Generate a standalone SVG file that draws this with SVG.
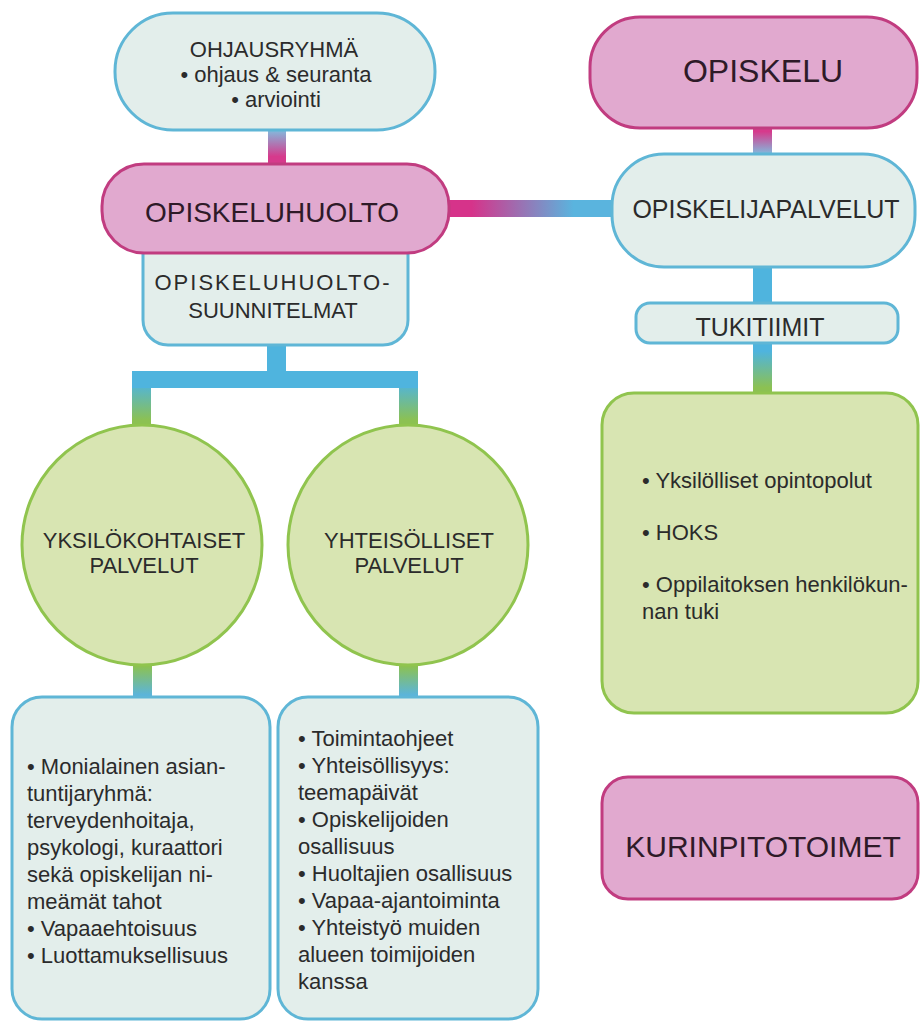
<svg xmlns="http://www.w3.org/2000/svg" width="920" height="1027" viewBox="0 0 920 1027">
<style>
.blue{fill:#e3eeeb;stroke:#5fb6d6;stroke-width:3}
.pink{fill:#e1a9cf;stroke:#c13c80;stroke-width:3}
.green{fill:#d8e5b2;stroke:#90c44e;stroke-width:3}
text{font-family:"Liberation Sans",Arial,sans-serif;fill:#2b2b2b}
.pt{fill:#2e1a28}
.c{text-anchor:middle}
.t22{font-size:22px}
</style>
<defs>
<linearGradient id="gBP" x1="0" y1="0" x2="0" y2="1"><stop offset="0.1" stop-color="#7fbfe0"/><stop offset="0.75" stop-color="#d63a8c"/></linearGradient>
<linearGradient id="gPB" x1="0" y1="0" x2="0" y2="1"><stop offset="0.2" stop-color="#d63a8c"/><stop offset="0.9" stop-color="#7fbfe0"/></linearGradient>
<linearGradient id="gPBh" x1="0" y1="0" x2="1" y2="0"><stop offset="0.15" stop-color="#d6338a"/><stop offset="0.75" stop-color="#5ab4de"/></linearGradient>
<linearGradient id="gBG" x1="0" y1="0" x2="0" y2="1"><stop offset="0.2" stop-color="#4fb4de"/><stop offset="0.85" stop-color="#8cc152"/></linearGradient>
<linearGradient id="gGB" x1="0" y1="0" x2="0" y2="1"><stop offset="0.15" stop-color="#8cc152"/><stop offset="0.85" stop-color="#5ab4de"/></linearGradient>
</defs>
<rect width="920" height="1027" fill="#ffffff"/>
<g id="connectors">
<rect x="268" y="125" width="18" height="42" fill="url(#gBP)"/>
<rect x="446" y="200" width="170" height="17" fill="url(#gPBh)"/>
<rect x="753" y="125" width="19" height="33" fill="url(#gPB)"/>
<rect x="753" y="264" width="19" height="42" fill="#4fb4de"/>
<rect x="753" y="340" width="19" height="56" fill="url(#gBG)"/>
<rect x="267" y="340" width="19" height="40" fill="#4fb4de"/>
<rect x="132" y="371" width="19" height="58" fill="url(#gBG)"/>
<rect x="399" y="371" width="19" height="58" fill="url(#gBG)"/>
<rect x="132" y="371" width="286" height="17" fill="#4fb4de"/>
<rect x="133" y="660" width="19" height="42" fill="url(#gGB)"/>
<rect x="399" y="660" width="19" height="42" fill="url(#gGB)"/>
</g>
<g id="ohjausryhma">
<rect class="blue" x="115" y="13" width="320" height="117" rx="58"/>
<text class="c t22" x="274" y="57">OHJAUSRYHMÄ</text>
<text class="c t22" x="276" y="82">• ohjaus &amp; seuranta</text>
<text class="c t22" x="276" y="107">• arviointi</text>
</g>
<g id="suunnitelmat">
<rect class="blue" x="143" y="225" width="265" height="120" rx="25"/>
<text class="c t22" x="272" y="290" textLength="235" lengthAdjust="spacing">OPISKELUHUOLTO-</text>
<text class="c t22" x="273" y="318">SUUNNITELMAT</text>
</g>
<g id="opiskeluhuolto">
<rect class="pink" x="102" y="164" width="347" height="89" rx="42"/>
<text class="c pt" x="272" y="222" font-size="28">OPISKELUHUOLTO</text>
</g>
<g id="opiskelu">
<rect class="pink" x="590" y="17" width="327" height="111" rx="50"/>
<text class="c pt" x="763" y="82" font-size="32">OPISKELU</text>
</g>
<g id="opiskelijapalvelut">
<rect class="blue" x="612" y="154" width="303" height="113" rx="52"/>
<text class="c" x="766" y="218" font-size="25">OPISKELIJAPALVELUT</text>
</g>
<g id="tukitiimit">
<rect class="blue" x="636" y="303" width="262" height="40" rx="14"/>
<text class="c" x="760" y="336" font-size="25">TUKITIIMIT</text>
</g>
<g id="tuki-sisalto">
<rect class="green" x="602" y="393" width="316" height="320" rx="32"/>
<text class="t22" x="642" y="488">• Yksilölliset opintopolut</text>
<text class="t22" x="642" y="540">• HOKS</text>
<text class="t22" x="642" y="592">• Oppilaitoksen henkilökun-</text>
<text class="t22" x="642" y="619">nan tuki</text>
</g>
<g id="kurinpitotoimet">
<rect class="pink" x="602" y="777" width="316" height="122" rx="26"/>
<text class="c pt" x="763" y="857" font-size="30">KURINPITOTOIMET</text>
</g>
<g id="yksilokohtaiset">
<circle class="green" cx="142" cy="545" r="120"/>
<text class="c t22" x="144" y="548">YKSILÖKOHTAISET</text>
<text class="c t22" x="144" y="573">PALVELUT</text>
</g>
<g id="yhteisolliset">
<circle class="green" cx="408" cy="545" r="120"/>
<text class="c t22" x="409" y="548">YHTEISÖLLISET</text>
<text class="c t22" x="409" y="573">PALVELUT</text>
</g>
<g id="yksilo-sisalto">
<rect class="blue" x="12" y="697" width="258" height="322" rx="30"/>
<text class="t22" x="27">
<tspan x="27" y="774">• Monialainen asian-</tspan>
<tspan x="27" y="801">tuntijaryhmä:</tspan>
<tspan x="27" y="828">terveydenhoitaja,</tspan>
<tspan x="27" y="855">psykologi, kuraattori</tspan>
<tspan x="27" y="882">sekä opiskelijan ni-</tspan>
<tspan x="27" y="909">meämät tahot</tspan>
<tspan x="27" y="936">• Vapaaehtoisuus</tspan>
<tspan x="27" y="963">• Luottamuksellisuus</tspan>
</text>
</g>
<g id="yhteiso-sisalto">
<rect class="blue" x="278" y="697" width="260" height="322" rx="30"/>
<text class="t22" x="298">
<tspan x="298" y="746">• Toimintaohjeet</tspan>
<tspan x="298" y="773">• Yhteisöllisyys:</tspan>
<tspan x="298" y="800">teemapäivät</tspan>
<tspan x="298" y="827">• Opiskelijoiden</tspan>
<tspan x="298" y="854">osallisuus</tspan>
<tspan x="298" y="881">• Huoltajien osallisuus</tspan>
<tspan x="298" y="908">• Vapaa-ajantoiminta</tspan>
<tspan x="298" y="935">• Yhteistyö muiden</tspan>
<tspan x="298" y="962">alueen toimijoiden</tspan>
<tspan x="298" y="989">kanssa</tspan>
</text>
</g>
</svg>
